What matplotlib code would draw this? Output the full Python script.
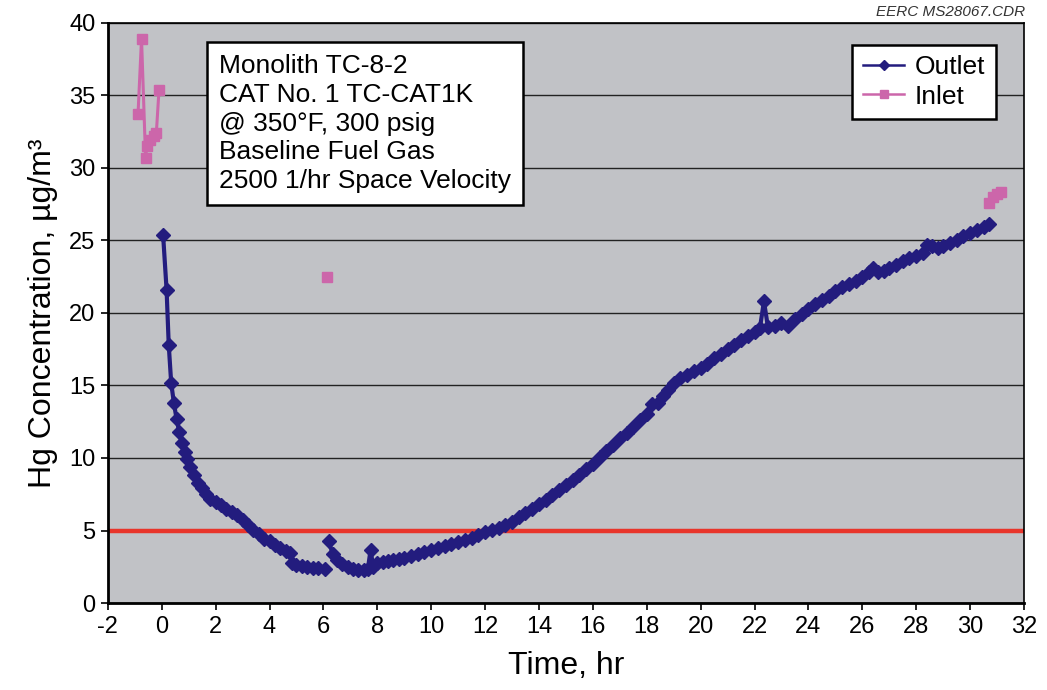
import numpy as np
import matplotlib
matplotlib.use("Agg")
import matplotlib.pyplot as plt
from matplotlib.lines import Line2D

plt.rcParams['font.family'] = ['Liberation Sans', 'DejaVu Sans']
plt.rcParams['axes.unicode_minus'] = False

# Outlet Hg concentration, NaN marks the break near 6 hr
outlet_t = [0.05, 0.18, 0.26, 0.35, 0.45, 0.55, 0.65, 0.75, 0.85, 0.95,
            1.05, 1.2, 1.35, 1.5, 1.65, 1.8, 2.0, 2.2, 2.4, 2.6,
            2.8, 3.0, 3.2, 3.4, 3.6, 3.8, 4.0, 4.2, 4.4, 4.6,
            4.75, 4.85, 5.0, 5.2, 5.4, 5.6, 5.8, 6.05, np.nan,
            6.2, 6.35, 6.5, 6.7, 6.9, 7.1, 7.3, 7.5, 7.65, 7.75,
            7.85, 8.0, 8.2, 8.4, 8.6, 8.8, 9.0, 9.25, 9.5, 9.75,
            10.0, 10.25, 10.5, 10.75, 11.0, 11.25, 11.5, 11.75, 12.0, 12.25,
            12.5, 12.75, 13.0, 13.25, 13.5, 13.75, 14.0, 14.25, 14.5, 14.75,
            15.0, 15.25, 15.5, 15.75, 16.0, 16.25, 16.5, 16.75, 17.0, 17.25,
            17.5, 17.75, 18.0, 18.2, 18.4, 18.6, 18.8, 19.0, 19.25, 19.5,
            19.75, 20.0, 20.25, 20.5, 20.75, 21.0, 21.25, 21.5, 21.75, 22.0,
            22.2, 22.35, 22.5, 22.75, 23.0, 23.25, 23.5, 23.75, 24.0, 24.25,
            24.5, 24.75, 25.0, 25.25, 25.5, 25.75, 26.0, 26.25, 26.4, 26.6,
            26.8, 27.0, 27.25, 27.5, 27.75, 28.0, 28.25, 28.4, 28.6, 28.8,
            29.0, 29.25, 29.5, 29.75, 30.0, 30.25, 30.5, 30.7]
outlet_hg = [25.4, 21.6, 17.8, 15.2, 13.8, 12.7, 11.8, 11.0, 10.4, 9.9,
             9.4, 8.8, 8.3, 7.9, 7.5, 7.2, 7.0, 6.75, 6.5, 6.3,
             6.05, 5.75, 5.4, 5.05, 4.75, 4.45, 4.25, 4.0, 3.8, 3.6,
             3.45, 2.75, 2.65, 2.55, 2.5, 2.45, 2.4, 2.35, np.nan,
             4.25, 3.35, 3.0, 2.7, 2.5, 2.35, 2.3, 2.3, 2.35, 3.65,
             2.5, 2.75, 2.85, 2.9, 3.0, 3.05, 3.1, 3.25, 3.4, 3.5,
             3.65, 3.8, 3.9, 4.05, 4.2, 4.35, 4.5, 4.7, 4.9, 5.05,
             5.2, 5.4, 5.6, 5.9, 6.2, 6.5, 6.8, 7.1, 7.45, 7.8,
             8.15, 8.5, 8.85, 9.25, 9.6, 10.05, 10.5, 10.9, 11.35, 11.75,
             12.15, 12.6, 13.05, 13.7, 13.8, 14.3, 14.7, 15.15, 15.5, 15.75,
             16.0, 16.2, 16.5, 16.9, 17.2, 17.5, 17.8, 18.1, 18.4, 18.7,
             18.95, 20.8, 19.0, 19.1, 19.3, 19.1, 19.6, 19.95, 20.3, 20.6,
             20.9, 21.2, 21.5, 21.8, 22.0, 22.2, 22.5, 22.8, 23.1, 22.8,
             22.9, 23.1, 23.3, 23.6, 23.8, 23.9, 24.1, 24.7, 24.6, 24.5,
             24.6, 24.8, 25.0, 25.3, 25.5, 25.7, 25.9, 26.1]

# Inlet Hg concentration
inlet_t = [-0.88, -0.75, -0.6, -0.55, -0.45, -0.3, -0.2, -0.1, np.nan,
           6.15, np.nan, 30.7, 30.85, 31.0, 31.15]
inlet_hg = [33.7, 38.9, 30.7, 31.5, 31.9, 32.2, 32.4, 35.4, np.nan,
            22.5, np.nan, 27.6, 28.0, 28.2, 28.35]

limit = 5
x_ticks = list(range(-2, 33, 2))
y_ticks = list(range(0, 41, 5))

info = ("Monolith TC-8-2\nCAT No. 1 TC-CAT1K\n@ 350\u00b0F, 300 psig\n"
        "Baseline Fuel Gas\n2500 1/hr Space Velocity")

fig = plt.figure(figsize=(10.47, 6.9), dpi=100)
ax = fig.add_axes([0.103, 0.126, 0.875, 0.841])
ax.set_facecolor('#C1C2C6')

ax.grid(axis='y', color='#222222', lw=1)
ax.set_axisbelow(True)
ax.axhline(limit, color='#E8352B', lw=3.2, zorder=2)

ax.plot(outlet_t, outlet_hg, color='#231C7E', marker='D', ms=7, lw=3,
        label='Outlet', zorder=3)
ax.plot(inlet_t, inlet_hg, color='#CC66AA', marker='s', ms=6.5, lw=2.2,
        label='Inlet', zorder=3)

ax.set_xlim(-2, 32)
ax.set_ylim(0, 40)
ax.set_xticks(x_ticks)
ax.set_yticks(y_ticks)
ax.tick_params(direction='out', length=5, width=1.2, labelsize=17, pad=4)
for s in ['left', 'bottom']:
    ax.spines[s].set_linewidth(2)
for s in ['top', 'right']:
    ax.spines[s].set_linewidth(1.2)

ax.set_xlabel('Time, hr', fontsize=23, labelpad=10)
ax.set_ylabel('Hg Concentration, \u00b5g/m\u00b3', fontsize=23, labelpad=8)

ax.text(0.121, 0.946, info, transform=ax.transAxes, va='top', ha='left',
        fontsize=19, linespacing=1.25,
        bbox=dict(boxstyle='square,pad=0.45', fc='white', ec='black', lw=1.8))

# legend handles drawn a bit smaller than the plotted markers
handles = [Line2D([], [], color='#231C7E', marker='D', ms=5, lw=1.8),
           Line2D([], [], color='#CC66AA', marker='s', ms=6, lw=1.8)]
leg = ax.legend(handles, ['Outlet', 'Inlet'], loc='upper right',
                bbox_to_anchor=(0.969, 0.962), borderaxespad=0, fontsize=19,
                fancybox=False, framealpha=1, edgecolor='black',
                handlelength=1.55, borderpad=0.4, labelspacing=0.2,
                handletextpad=0.4)
leg.get_frame().set_linewidth(1.8)

fig.text(0.979, 0.973, 'EERC MS28067.CDR', ha='right', va='bottom',
         fontsize=11, style='italic', color='#333333')

fig.savefig('out.png', dpi=100)
